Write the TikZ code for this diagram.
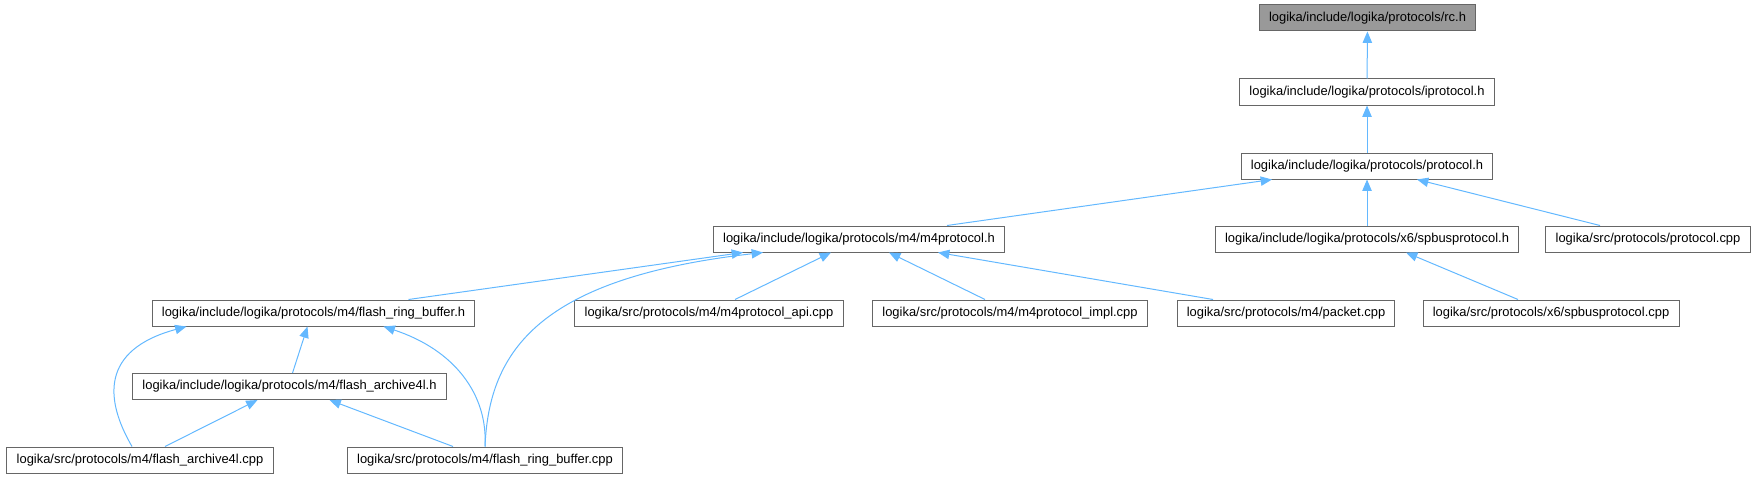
\documentclass[tikz,border=0pt]{standalone}
\usepackage{fontspec}
\setmainfont{Liberation Sans}
\usepackage{tikz}
\usetikzlibrary{arrows.meta, calc}
\definecolor{edgeblue}{HTML}{63B8FF}
\definecolor{boxgray}{HTML}{666666}
\definecolor{curgray}{HTML}{999999}

\begin{document}
\begin{tikzpicture}[x=0.75pt, y=-0.75pt,
  font=\fontsize{9.7}{11}\selectfont,
  filenode/.style={rectangle, draw=boxgray, line width=0.75pt, fill=white,
    minimum height=19.5pt, inner xsep=7.3pt, inner ysep=0pt},
  curnode/.style={filenode, fill=curgray},
  inc/.style={-{Triangle[length=8.5pt, width=7pt]}, line width=0.75pt, edgeblue}]
  \useasboundingbox (0,0) rectangle (1758,478);
  % rows from the top
  \node[curnode] (rc) at (1367.5,18) {logika/include/logika/protocols/rc.h};
  \node[filenode] (iproto) at (1367,92) {logika/include/logika/protocols/iprotocol.h};
  \node[filenode] (proto) at (1367,166) {logika/include/logika/protocols/protocol.h};
  \node[filenode] (m4) at (859,239) {logika/include/logika/protocols/m4/m4protocol.h};
  \node[filenode] (spbush) at (1367,239) {logika/include/logika/protocols/x6/spbusprotocol.h};
  \node[filenode] (protocpp) at (1648,239) {logika/src/protocols/protocol.cpp};
  \node[filenode] (frbh) at (313.5,313) {logika/include/logika/protocols/m4/flash\_ring\_buffer.h};
  \node[filenode] (api) at (709,313) {logika/src/protocols/m4/m4protocol\_api.cpp};
  \node[filenode] (impl) at (1010,313) {logika/src/protocols/m4/m4protocol\_impl.cpp};
  \node[filenode] (packet) at (1286,313) {logika/src/protocols/m4/packet.cpp};
  \node[filenode] (spbuscpp) at (1551,313) {logika/src/protocols/x6/spbusprotocol.cpp};
  \node[filenode] (fa4lh) at (289.5,386.5) {logika/include/logika/protocols/m4/flash\_archive4l.h};
  \node[filenode] (fa4lcpp) at (140,460) {logika/src/protocols/m4/flash\_archive4l.cpp};
  \node[filenode] (frbcpp) at (485,460) {logika/src/protocols/m4/flash\_ring\_buffer.cpp};
  % include edges, tip at the included file
  \draw[inc] (iproto) -- (rc);
  \draw[inc] (proto) -- (iproto);
  \draw[inc] ($(m4.north)+(88,0)$) -- ($(proto.south)+(-95,0)$);
  \draw[inc] (spbush) -- (proto);
  \draw[inc] ($(protocpp.north)+(-48,0)$) -- ($(proto.south)+(50,0)$);
  \draw[inc] ($(frbh.north)+(95,0)$) -- ($(m4.south)+(-116,0)$);
  \draw[inc] (frbcpp.north) .. controls (489,350) and (540,278) .. ($(m4.south)+(-96,0)$);
  \draw[inc] ($(api.north)+(26,0)$) -- ($(m4.south)+(-28,0)$);
  \draw[inc] ($(impl.north)+(-25,0)$) -- ($(m4.south)+(30,0)$);
  \draw[inc] ($(packet.north)+(-73,0)$) -- ($(m4.south)+(79,0)$);
  \draw[inc] ($(spbuscpp.north)+(-33,0)$) -- ($(spbush.south)+(39,0)$);
  \draw[inc] ($(fa4lh.north)+(3,0)$) -- ($(frbh.south)+(-6,0)$);
  \draw[inc] ($(fa4lcpp.north)+(-8,0)$) .. controls (105,400) and (100,350) .. ($(frbh.south)+(-127,0)$);
  \draw[inc] (frbcpp.north) .. controls (488,395) and (455,350) .. ($(frbh.south)+(70,0)$);
  \draw[inc] ($(fa4lcpp.north)+(25,0)$) -- ($(fa4lh.south)+(-32,0)$);
  \draw[inc] ($(frbcpp.north)+(-32,0)$) -- ($(fa4lh.south)+(40,0)$);
\end{tikzpicture}
\end{document}
